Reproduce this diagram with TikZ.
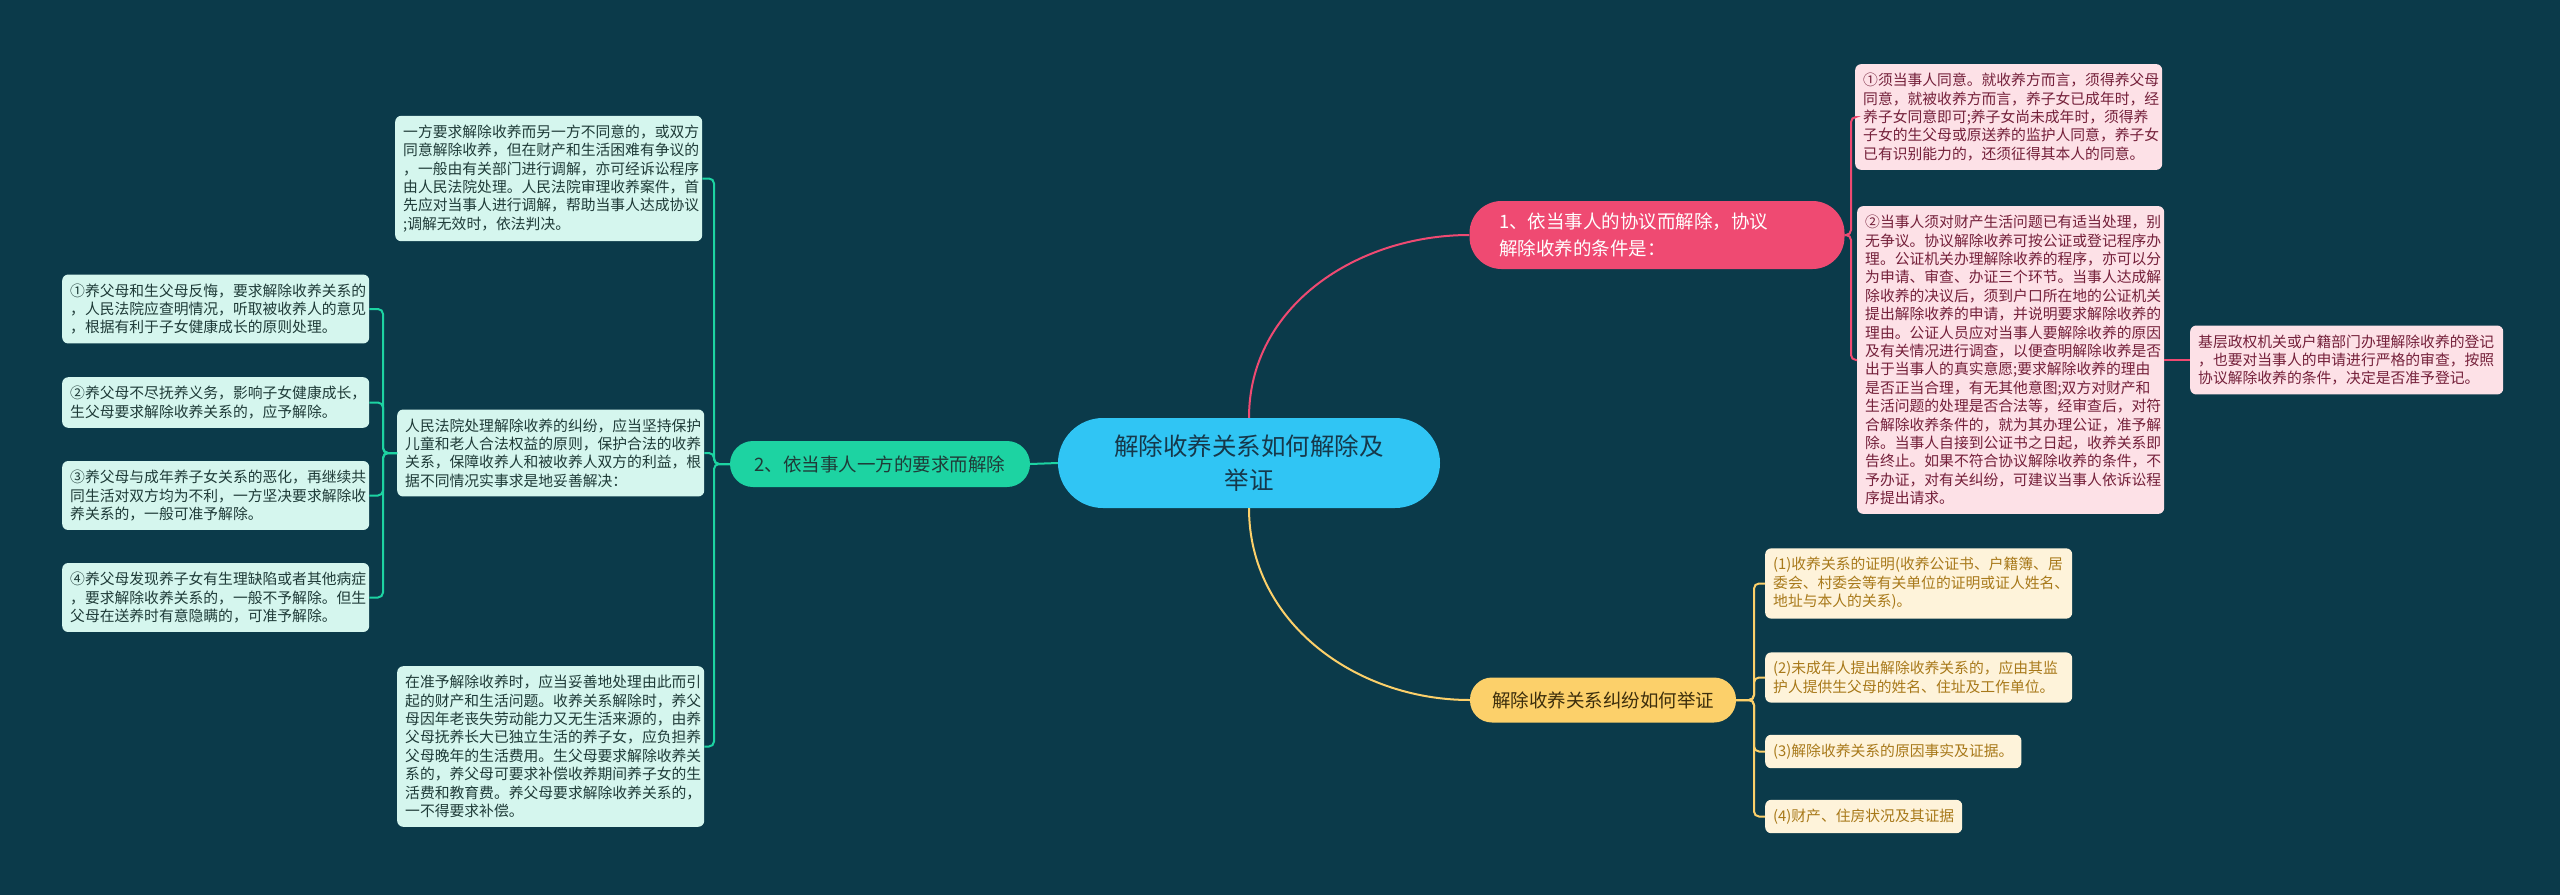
\documentclass[tikz,border=0pt]{standalone}
\usepackage{fontspec}
\setmainfont{Noto Sans CJK SC}
\definecolor{bgc}{HTML}{0B3A4A}
\definecolor{rootc}{HTML}{30C5F4}
\definecolor{greenc}{HTML}{1DD3A2}
\definecolor{pinkc}{HTML}{EF4A72}
\definecolor{yellowc}{HTML}{FCD06A}
\definecolor{tealbox}{HTML}{D5F6EE}
\definecolor{pinkbox}{HTML}{FDE1E7}
\definecolor{yellowbox}{HTML}{FEF3DA}
\definecolor{tealtxt}{HTML}{1F3B38}
\definecolor{pinktxt}{HTML}{74203A}
\definecolor{yellowtxt}{HTML}{A8791A}
\definecolor{darktxt}{HTML}{16384A}
\definecolor{browntxt}{HTML}{3D2E0C}

\begin{document}
\begin{tikzpicture}[x=1pt, y=-1pt, every node/.style={inner sep=0pt},
	leaf/.style={rounded corners=6pt, align=left, inner xsep=8pt, inner ysep=9pt, anchor=west, font=\fontsize{14.8pt}{18.4pt}\selectfont},
	tleaf/.style={leaf, fill=tealbox, text=tealtxt},
	pleaf/.style={leaf, fill=pinkbox, text=pinktxt},
	yleaf/.style={leaf, fill=yellowbox, text=yellowtxt},
	wide/.style={text width=291pt},
	branch/.style={rounded corners=23pt, minimum height=46pt, font=\fontsize{18.5pt}{27pt}\selectfont},
	tline/.style={draw=greenc, line width=2pt, rounded corners=5pt},
	pline/.style={draw=pinkc, line width=2pt, rounded corners=5pt},
	yline/.style={draw=yellowc, line width=2pt, rounded corners=5pt}]
	\fill[bgc] (0,0) rectangle (2560,895);
	\useasboundingbox (0,0) rectangle (2560,895);
	\node[fill=rootc, text=darktxt, minimum width=382pt, minimum height=90pt, rounded corners=45pt, align=center, font=\fontsize{24.5pt}{34pt}\selectfont] (root) at (1249,463) {解除收养关系如何解除及\\举证};
	\node[branch, fill=pinkc, text=white, minimum width=375pt, minimum height=68pt, rounded corners=32pt, text width=316pt, align=left] (agree) at (1657,235) {1、依当事人的协议而解除，协议\\解除收养的条件是：};
	\node[branch, fill=greenc, text=tealtxt, minimum width=300pt] (oneside) at (880,464) {2、依当事人一方的要求而解除};
	\node[branch, fill=yellowc, text=browntxt, minimum width=266pt, minimum height=45pt, rounded corners=22pt] (proof) at (1603,700) {解除收养关系纠纷如何举证};
	\node[tleaf, wide] (court1) at (395,178.5) {一方要求解除收养而另一方不同意的，或双方\\同意解除收养，但在财产和生活困难有争议的\\，一般由有关部门进行调解，亦可经诉讼程序\\由人民法院处理。人民法院审理收养案件，首\\先应对当事人进行调解，帮助当事人达成协议\\;调解无效时，依法判决。};
	\node[tleaf, wide] (court2) at (397,453) {人民法院处理解除收养的纠纷，应当坚持保护\\儿童和老人合法权益的原则，保护合法的收养\\关系，保障收养人和被收养人双方的利益，根\\据不同情况实事求是地妥善解决：};
	\node[tleaf, wide] (court3) at (397,746.5) {在准予解除收养时，应当妥善地处理由此而引\\起的财产和生活问题。收养关系解除时，养父\\母因年老丧失劳动能力又无生活来源的，由养\\父母抚养长大已独立生活的养子女，应负担养\\父母晚年的生活费用。生父母要求解除收养关\\系的，养父母可要求补偿收养期间养子女的生\\活费和教育费。养父母要求解除收养关系的，\\一不得要求补偿。};
	\node[tleaf, wide] (case1) at (62,309) {①养父母和生父母反悔，要求解除收养关系的\\，人民法院应查明情况，听取被收养人的意见\\，根据有利于子女健康成长的原则处理。};
	\node[tleaf, wide] (case2) at (62,402.5) {②养父母不尽抚养义务，影响子女健康成长，\\生父母要求解除收养关系的，应予解除。};
	\node[tleaf, wide] (case3) at (62,495.5) {③养父母与成年养子女关系的恶化，再继续共\\同生活对双方均为不利，一方坚决要求解除收\\养关系的，一般可准予解除。};
	\node[tleaf, wide] (case4) at (62,597.5) {④养父母发现养子女有生理缺陷或者其他病症\\，要求解除收养关系的，一般不予解除。但生\\父母在送养时有意隐瞒的，可准予解除。};
	\node[pleaf, wide] (cond1) at (1855,117) {①须当事人同意。就收养方而言，须得养父母\\同意，就被收养方而言，养子女已成年时，经\\养子女同意即可;养子女尚未成年时，须得养\\子女的生父母或原送养的监护人同意，养子女\\已有识别能力的，还须征得其本人的同意。};
	\node[pleaf, wide] (cond2) at (1857,360) {②当事人须对财产生活问题已有适当处理，别\\无争议。协议解除收养可按公证或登记程序办\\理。公证机关办理解除收养的程序，亦可以分\\为申请、审查、办证三个环节。当事人达成解\\除收养的决议后，须到户口所在地的公证机关\\提出解除收养的申请，并说明要求解除收养的\\理由。公证人员应对当事人要解除收养的原因\\及有关情况进行调查，以便查明解除收养是否\\出于当事人的真实意愿;要求解除收养的理由\\是否正当合理，有无其他意图;双方对财产和\\生活问题的处理是否合法等，经审查后，对符\\合解除收养条件的，就为其办理公证，准予解\\除。当事人自接到公证书之日起，收养关系即\\告终止。如果不符合协议解除收养的条件，不\\予办证，对有关纠纷，可建议当事人依诉讼程\\序提出请求。};
	\node[pleaf, text width=297pt] (register) at (2190,360) {基层政权机关或户籍部门办理解除收养的登记\\，也要对当事人的申请进行严格的审查，按照\\协议解除收养的条件，决定是否准予登记。};
	\node[yleaf, wide] (ev1) at (1765,583.5) {(1)收养关系的证明(收养公证书、户籍簿、居\\委会、村委会等有关单位的证明或证人姓名、\\地址与本人的关系)。};
	\node[yleaf, wide] (ev2) at (1765,677.5) {(2)未成年人提出解除收养关系的，应由其监\\护人提供生父母的姓名、住址及工作单位。};
	\node[yleaf] (ev3) at (1765,751.5) {(3)解除收养关系的原因事实及证据。};
	\node[yleaf] (ev4) at (1765,816.5) {(4)财产、住房状况及其证据};
	\coordinate (gsp) at (714,464);
	\coordinate (msp) at (383,453);
	\coordinate (psp) at (1851,235);
	\coordinate (ysp) at (1754,700);
	\draw[tline] (root.west) -- (oneside.east);
	\draw[pline] (root.north) to[out=90, in=180] (agree.west);
	\draw[yline] (root.south) to[out=-90, in=180] (proof.west);
	\foreach \n in {court1,court2,court3}
		\draw[tline] (oneside.west) -- (gsp) |- (\n.east);
	\foreach \n in {case1,case2,case3,case4}
		\draw[tline] (court2.west) -- (msp) |- (\n.east);
	\foreach \n in {cond1,cond2}
		\draw[pline] (agree.east) -- (psp) |- (\n.west);
	\draw[pline] (cond2.east) -- (register.west);
	\foreach \n in {ev1,ev2,ev3,ev4}
		\draw[yline] (proof.east) -- (ysp) |- (\n.west);
\end{tikzpicture}
\end{document}
